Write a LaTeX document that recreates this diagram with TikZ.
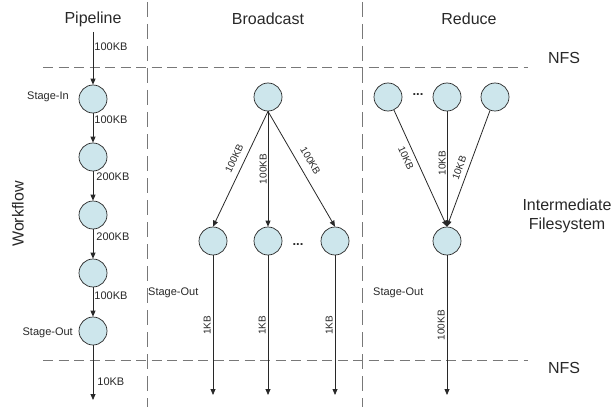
\documentclass[tikz,border=0pt]{standalone}
\usepackage{fontspec}
\setmainfont{Liberation Sans}
\usetikzlibrary{arrows.meta}
\definecolor{nodefill}{RGB}{205,230,236}
\definecolor{inkgray}{RGB}{40,40,40}
\definecolor{sepgray}{RGB}{120,120,120}
\begin{document}
\begin{tikzpicture}[x=1pt,y=-1pt,
  task/.style={circle, draw=inkgray, fill=nodefill, line width=0.7pt, minimum size=28pt, inner sep=0pt},
  flow/.style={draw=inkgray, line width=0.8pt, -{Triangle[length=6pt,width=5pt]}},
  title/.style={font=\fontsize{16}{19}\selectfont, text=inkgray},
  size/.style={font=\fontsize{11}{13}\selectfont, text=inkgray, inner sep=1pt},
  edgelbl/.style={font=\fontsize{10}{12}\selectfont, text=inkgray, inner sep=1pt},
  dotlbl/.style={font=\fontsize{13}{15}\selectfont\bfseries, text=inkgray, inner sep=0pt},
  hsep/.style={draw=sepgray, line width=0.8pt, dash pattern=on 10pt off 5.5pt},
  vsep/.style={draw=sepgray, line width=0.8pt, dash pattern=on 15pt off 7pt},
]
\useasboundingbox (0,0) rectangle (615,409);

% column separators and storage boundaries
\draw[vsep] (147,2) -- (147,407);
\draw[vsep] (362,2) -- (362,407);
\draw[hsep] (43,67) -- (528,67);
\draw[hsep] (43,360) -- (528,360);

% headings
\node[title] (tpipe) at (93,19) {Pipeline};
\node[title] (tbcast) at (268,19) {Broadcast};
\node[title] (tred) at (469,19) {Reduce};
\node[title, rotate=90] (twf) at (18,214) {Workflow};
\node[title] (nfstop) at (564,58) {NFS};
\node[title] (nfsbot) at (564,368) {NFS};
\node[title, align=center] (ifs) at (567,216) {Intermediate\\Filesystem};

% pipeline
\coordinate (pin) at (93,32);
\coordinate (pout) at (93,400);
\node[task] (p1) at (93,99) {};
\node[task] (p2) at (93,157) {};
\node[task] (p3) at (93,215) {};
\node[task] (p4) at (93,273) {};
\node[task] (p5) at (93,331) {};
\node[size, anchor=east] (lin) at (70,97) {Stage-In};
\node[size, anchor=east] (lout) at (74,333) {Stage-Out};
\draw[flow] (pin) -- node[size, anchor=west, pos=0.28] {100KB} (p1);
\draw[flow] (p1) -- node[size, anchor=west, pos=0.23] {100KB} (p2);
\draw[flow] (p2) -- node[size, anchor=west, pos=0.2, xshift=2pt] {200KB} (p3);
\draw[flow] (p3) -- node[size, anchor=west, pos=0.25, xshift=2pt] {200KB} (p4);
\draw[flow] (p4) -- node[size, anchor=west, pos=0.27] {100KB} (p5);
\draw[flow] (p5) -- node[size, anchor=west, pos=0.67, xshift=3pt] {10KB} (pout);

% broadcast
\node[task] (b0) at (268,97) {};
\node[task] (b1) at (213,241) {};
\node[task] (b2) at (268,241) {};
\node[task] (b3) at (335,241) {};
\node[dotlbl] (bdots) at (298,245) {...};
\node[size, anchor=west] (bso) at (147,293) {Stage-Out};
\draw[flow] (b0.south) -- node[edgelbl, sloped, above=5pt, pos=0.45] {100KB} (b1.north);
\draw[flow] (b0.south) -- node[edgelbl, rotate=90, anchor=south] {100KB} (b2.north);
\draw[flow] (b0.south) -- node[edgelbl, sloped, above=7pt, pos=0.48] {100KB} (b3.north);
\coordinate (bo1) at (213,395);
\coordinate (bo2) at (268,395);
\coordinate (bo3) at (335,395);
\draw[flow] (b1) -- node[edgelbl, rotate=90, anchor=south, inner sep=2pt] {1KB} (bo1);
\draw[flow] (b2) -- node[edgelbl, rotate=90, anchor=south, inner sep=2pt] {1KB} (bo2);
\draw[flow] (b3) -- node[edgelbl, rotate=90, anchor=south, inner sep=2pt] {1KB} (bo3);

% reduce
\node[task] (r1) at (388,97) {};
\node[task] (r2) at (447,97) {};
\node[task] (r3) at (495,97) {};
\node[task] (r4) at (447,241) {};
\node[dotlbl] (rdots) at (418,95) {...};
\node[size, anchor=west] (rso) at (372,293) {Stage-Out};
\draw[flow] (r1) -- node[edgelbl, sloped, below=4pt, pos=0.38] {10KB} (r4.north);
\draw[flow] (r2) -- node[edgelbl, rotate=90, anchor=south, pos=0.45] {10KB} (r4.north);
\draw[flow] (r3) -- node[edgelbl, sloped, above=4pt, pos=0.52] {10KB} (r4.north);
\coordinate (ro) at (447,395);
\draw[flow] (r4) -- node[edgelbl, rotate=90, anchor=south, inner sep=2pt] {100KB} (ro);
\end{tikzpicture}
\end{document}
